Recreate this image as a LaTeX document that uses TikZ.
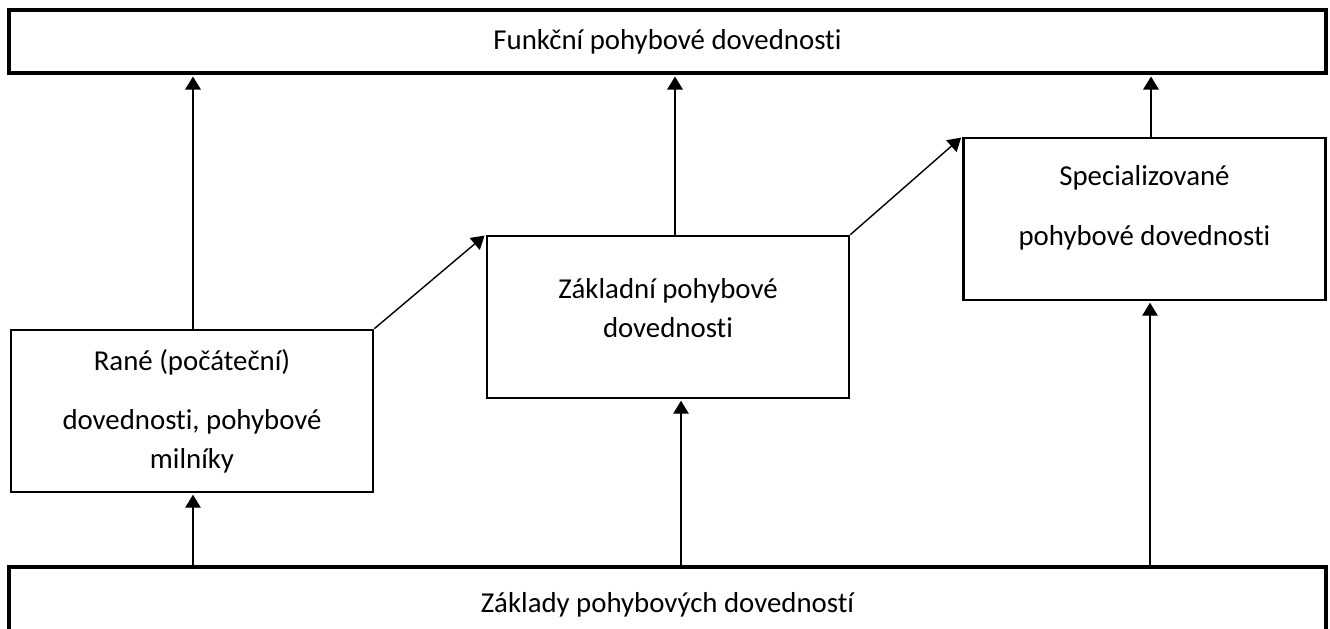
\documentclass[tikz,border=0pt]{standalone}
\usepackage{fontspec}
\setmainfont{Carlito}[Ligatures=CommonOff]
\usetikzlibrary{arrows.meta}

\tikzset{
  box/.style={draw,line width=0.75pt,minimum width=3.62cm,minimum height=1.62cm,inner sep=0pt},
  bar/.style={draw,line width=1.2pt,minimum width=13.17cm,inner sep=0pt},
  arr/.style={-{Triangle[length=1.3mm,width=1.55mm]},line width=0.4pt,shorten >=0.4pt}
}

\begin{document}
\begin{tikzpicture}[font=\fontsize{8.2}{11}\selectfont]
\useasboundingbox (0,0) rectangle (13.30,6.28);
\node (funk) at (6.675,5.865) [bar,minimum height=0.63cm] {Funkční pohybové dovednosti};
\node (zaklady) at (6.675,0.23) [bar,minimum height=0.76cm] {Základy pohybových dovedností};
\node (rane) at (1.92,2.17) [box] {};
\node (zakl) at (6.68,3.11) [box] {};
\node (spec) at (11.445,4.09) [box] {};
\node [align=center] at (rane.center) {Rané (počáteční)\\[0.21cm]dovednosti, pohybové\\milníky};
\node [align=center] at ([yshift=0.09cm]zakl.center) {Základní pohybové\\dovednosti};
\node [align=center] at ([yshift=0.11cm]spec.center) {Specializované\\[0.21cm]pohybové dovednosti};
\coordinate (rt) at ([xshift=0.01cm]rane.north);
\coordinate (zt) at ([xshift=0.07cm]zakl.north);
\coordinate (st) at ([xshift=0.065cm]spec.north);
\coordinate (rb) at ([xshift=0.01cm]rane.south);
\coordinate (zb) at ([xshift=0.13cm]zakl.south);
\coordinate (sb) at ([xshift=0.055cm]spec.south);
\draw [arr] (rt) -- (rt |- funk.south);
\draw [arr] (zt) -- (zt |- funk.south);
\draw [arr] (st) -- (st |- funk.south);
\draw [arr] (rb |- zaklady.north) -- (rb);
\draw [arr] (zb |- zaklady.north) -- (zb);
\draw [arr] (sb |- zaklady.north) -- (sb);
\draw [arr] (rane.north east) -- (zakl.north west);
\draw [arr] (zakl.north east) -- (spec.north west);
\end{tikzpicture}
\end{document}
